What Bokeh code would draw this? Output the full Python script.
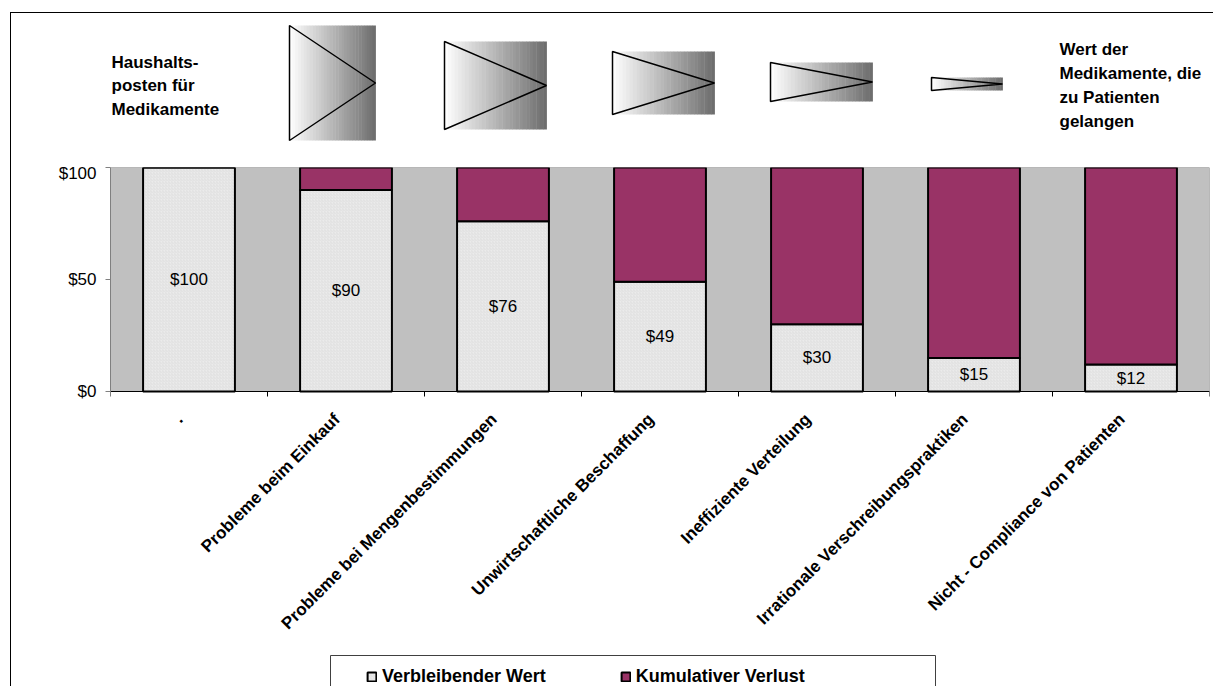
import math
from bokeh.plotting import figure
from bokeh.models import (Range1d, FixedTicker, NumeralTickFormatter, Legend,
                          LegendItem, ColumnDataSource)
from bokeh.layouts import column
from bokeh.core.properties import value
from bokeh.embed import file_html
from bokeh.resources import INLINE

# ---------------- data ----------------
categories = [".", "Probleme beim Einkauf", "Probleme bei Mengenbestimmungen",
              "Unwirtschaftliche Beschaffung", "Ineffiziente Verteilung",
              "Irrationale Verschreibungspraktiken", "Nicht - Compliance von Patienten"]
remaining = [100, 90, 76, 49, 30, 15, 12]          # Verbleibender Wert
loss = [0, 10, 24, 51, 70, 85, 88]                 # Kumulativer Verlust
value_labels = ["$100", "$90", "$76", "$49", "$30", "$15", "$12"]
y_ticks = [0, 50, 100]
series_names = ["Verbleibender Wert", "Kumulativer Verlust"]
left_note = "Haushalts-\nposten für\nMedikamente"
right_note = "Wert der\nMedikamente, die\nzu Patienten\ngelangen"

# decorative funnel shapes of the header (page pixel coordinates)
funnel_left = [289, 444, 612, 770, 931]
funnel_right = [375, 546, 714, 872, 1002]
funnel_top = [25, 41, 51, 62, 77]
funnel_bottom = [140, 129, 114, 101, 90]

FONT = value("Liberation Sans")
LIGHT = "#EBEBEB"
PLUM = "#993366"

FRAME_W = 1099
PLOT_H = 224                 # pixel height of the 0..100 value band
FRAME_H = 533                # frame reaches below the window (labels + legend inside)
Y_MAX = 100
PX_PER_UNIT = PLOT_H / Y_MAX
Y_MIN = Y_MAX - FRAME_H / PX_PER_UNIT
BORDER_L, BORDER_R, BORDER_T = 99, 4, 4
TOTAL_W = BORDER_L + FRAME_W + BORDER_R
HEAD_H = 150
X0, Y0 = 11, 13  # page position of the layout content
FX0 = X0 + BORDER_L  # page x of the (aligned) plot frames
FY0 = Y0 + HEAD_H + BORDER_T + PLOT_H   # page y of value 0
CAT_PX = FRAME_W / len(categories)

# legend frame (page pixels) -> data units
LEG_LEFT, LEG_RIGHT, LEG_TOP = 330, 935, 655

# ---------------- header figure ----------------
t = figure(width=TOTAL_W, height=HEAD_H, x_range=Range1d(FX0, FX0 + FRAME_W),
           y_range=Range1d(Y0 + HEAD_H, Y0), min_border=0,
           min_border_left=BORDER_L, min_border_right=BORDER_R,
           x_axis_location=None, y_axis_location=None,
           output_backend="svg", toolbar_location=None)
t.grid.visible = False
t.outline_line_color = None
t.background_fill_color = "white"
t.border_fill_color = "white"

N = 30
ql, qr, qt, qb, qc = [], [], [], [], []
for l, r, tp, bt in zip(funnel_left, funnel_right, funnel_top, funnel_bottom):
    w = (r - l) / N
    for k in range(N):
        g = int(round(255 - (255 - 108) * (k + 0.5) / N))
        ql.append(l + k * w)
        qr.append(l + (k + 1) * w + 0.4)
        qt.append(tp)
        qb.append(bt)
        qc.append("#%02x%02x%02x" % (g, g, g))
t.quad(left=ql, right=qr, top=qt, bottom=qb, fill_color=qc, line_color=None)
t.patches(xs=[[l, l, r] for l, r in zip(funnel_left, funnel_right)],
          ys=[[tp, bt, (tp + bt) / 2] for tp, bt in zip(funnel_top, funnel_bottom)],
          fill_color=None, line_color="black", line_width=1.5)
t.text(x=[FX0 + 1], y=[52], text=[left_note], text_font=FONT, text_font_style="bold",
       text_font_size="17px", text_baseline="top", text_line_height=1.25,
       text_color="black")
t.text(x=[1059], y=[39], text=[right_note], text_font=FONT, text_font_style="bold",
       text_font_size="17px", text_baseline="top", text_line_height=1.28,
       text_color="black")

# ---------------- main chart ----------------
n = len(categories)
xs = [i + 0.5 for i in range(n)]
label_pos = [x - 0.057 for x in xs]   # Excel-like anchoring of the slanted labels
source = ColumnDataSource(dict(x=xs, remaining=remaining, loss=loss,
                               label=value_labels,
                               label_y=[v / 2 for v in remaining]))

p = figure(frame_width=FRAME_W, frame_height=FRAME_H,
           x_range=Range1d(0, n), y_range=Range1d(Y_MIN, Y_MAX),
           min_border_left=BORDER_L, min_border_right=BORDER_R,
           min_border_top=BORDER_T, min_border_bottom=0,
           output_backend="svg", toolbar_location=None)
p.background_fill_color = "white"
p.border_fill_color = "white"
p.outline_line_color = None
p.xgrid.visible = False
p.ygrid.visible = False

# grey plot area (0..100 band)
p.quad(left=[0], right=[n], bottom=[0], top=[Y_MAX], fill_color="#C0C0C0",
       line_color="#808080", line_width=1)

# legend frame
p.quad(left=[(LEG_LEFT - FX0) / CAT_PX], right=[(LEG_RIGHT - FX0) / CAT_PX],
       top=[-(LEG_TOP - FY0) / PX_PER_UNIT], bottom=[Y_MIN],
       fill_color="white", line_color="#404040", line_width=1)

rs = p.vbar_stack(["remaining", "loss"], x="x", width=0.585, source=source,
                  fill_color=[LIGHT, PLUM], line_color="black", line_width=2)
rs[0].glyph.hatch_pattern = "right_diagonal_line"
rs[0].glyph.hatch_color = "#D9D9D9"
rs[0].glyph.hatch_scale = 3
rs[0].glyph.hatch_weight = 0.6

p.text(x="x", y="label_y", text="label", source=source, text_align="center",
       text_baseline="middle", text_font=FONT, text_font_size="17px",
       text_color="black")

# y axis
ya = p.yaxis[0]
ya.ticker = FixedTicker(ticks=y_ticks)
ya.bounds = (0, Y_MAX)
ya.formatter = NumeralTickFormatter(format="$0")
ya.axis_line_color = "#808080"
ya.major_tick_line_color = "#808080"
ya.major_tick_out = 5
ya.major_tick_in = 0
ya.minor_tick_line_color = None
ya.major_label_standoff = 9
ya.major_label_text_font = "Liberation Sans"
ya.major_label_text_font_size = "17px"
ya.major_label_text_color = "black"

# x axis at value 0: labels near category centres, ticks at category boundaries
xa = p.xaxis[0]
xa.fixed_location = 0
xa.ticker = FixedTicker(ticks=label_pos, minor_ticks=list(range(n + 1)))
xa.major_label_overrides = {x: c for x, c in zip(label_pos, categories)}
xa.major_tick_line_color = None
xa.major_tick_out = 0
xa.major_tick_in = 0
xa.minor_tick_line_color = "black"
xa.minor_tick_out = 5
xa.minor_tick_in = 0
xa.axis_line_color = "black"
xa.major_label_orientation = math.pi / 4
xa.major_label_standoff = 20
xa.major_label_text_font = "Liberation Sans"
xa.major_label_text_font_style = "bold"
xa.major_label_text_font_size = "17px"
xa.major_label_text_color = "black"

legend = Legend(items=[LegendItem(label=series_names[0], renderers=[rs[0]]),
                       LegendItem(label=series_names[1], renderers=[rs[1]])],
                orientation="horizontal", location=(246, 3))
legend.label_text_font = "Liberation Sans"
legend.label_text_font_style = "bold"
legend.label_text_font_size = "18px"
legend.label_text_color = "black"
legend.glyph_width = 11
legend.glyph_height = 11
legend.label_standoff = 5
legend.spacing = 74
legend.padding = 10
legend.margin = 0
legend.border_line_color = "#404040"
legend.border_line_alpha = 0
legend.background_fill_color = "white"
legend.background_fill_alpha = 0
p.add_layout(legend, "center")

layout = column(t, p, margin=(12, 0, 0, 10),
                styles={"border-left": "1px solid black",
                        "border-top": "1px solid black"})

open("out.html", "w").write(file_html(layout, INLINE))
